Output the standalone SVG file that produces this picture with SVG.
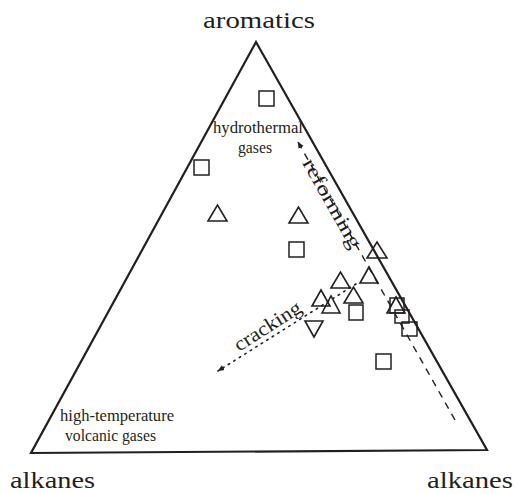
<svg xmlns="http://www.w3.org/2000/svg" width="517" height="494" viewBox="0 0 517 494">
<style>
.lbl{font-family:"Liberation Serif","Times New Roman",serif;fill:#231f20;}
.in{font-family:"Liberation Serif","Times New Roman",serif;fill:#231f20;}
.sq{fill:none;stroke:#231f20;stroke-width:1.5;}
.tr{fill:none;stroke:#231f20;stroke-width:1.6;stroke-linejoin:miter;}
</style>
<defs>
<marker id="ah" viewBox="0 0 10 10" refX="9" refY="5" markerWidth="7" markerHeight="7" orient="auto" markerUnits="userSpaceOnUse">
<path d="M0,1 L10,5 L0,9 Z" fill="#231f20"/>
</marker>
</defs>
<rect width="517" height="494" fill="#ffffff"/>
<g id="frame">
<path d="M256,42 L487,450 L31,453 Z" fill="none" stroke="#231f20" stroke-width="2.2" stroke-linejoin="miter"/>
</g>
<g id="labels">
<text class="lbl" x="203" y="28" font-size="23" textLength="112" lengthAdjust="spacingAndGlyphs">aromatics</text>
<text class="lbl" x="10" y="488" font-size="24" textLength="85" lengthAdjust="spacingAndGlyphs">alkanes</text>
<text class="lbl" x="427" y="488" font-size="24" textLength="86" lengthAdjust="spacingAndGlyphs">alkanes</text>
</g>
<g id="hydrothermal">
<text class="in" x="213" y="133" font-size="16" textLength="90" lengthAdjust="spacingAndGlyphs">hydrothermal</text>
<text class="in" x="238" y="153" font-size="16" textLength="34" lengthAdjust="spacingAndGlyphs">gases</text>
</g>
<g id="volcanic">
<text class="in" x="60" y="421" font-size="16" textLength="114" lengthAdjust="spacingAndGlyphs">high-temperature</text>
<text class="in" x="65" y="441" font-size="16" textLength="91" lengthAdjust="spacingAndGlyphs">volcanic gases</text>
</g>
<g id="connectors">
<line x1="455" y1="420" x2="298" y2="142" stroke="#231f20" stroke-width="1.4" stroke-dasharray="7,6" marker-end="url(#ah)"/>
<line x1="356" y1="284" x2="218" y2="371" stroke="#231f20" stroke-width="1.6" stroke-dasharray="1.5,5" stroke-linecap="round" marker-end="url(#ah)"/>
</g>
<g id="reforming">
<text class="in" transform="translate(302,163) rotate(60.6)" font-size="20" textLength="100" lengthAdjust="spacingAndGlyphs">reforming</text>
</g>
<g id="cracking">
<text class="in" transform="translate(239,352) rotate(-32.5)" font-size="20" textLength="76" lengthAdjust="spacingAndGlyphs">cracking</text>
</g>
<g id="squares">
<rect class="sq" x="259" y="91" width="15" height="15"/>
<rect class="sq" x="194" y="160" width="15" height="15"/>
<rect class="sq" x="289" y="242" width="15" height="15"/>
<rect class="sq" x="349" y="305" width="14" height="15"/>
<rect class="sq" x="376" y="354" width="15" height="15"/>
<rect class="sq" x="390" y="298" width="14" height="15"/>
<rect class="sq" x="395" y="310" width="14" height="13"/>
<rect class="sq" x="402" y="322" width="15" height="14"/>
</g>
<g id="triangles">
<path class="tr" d="M208,221 L217.5,205 L227,221 Z"/>
<path class="tr" d="M289,223 L298.5,207 L308,223 Z"/>
<path class="tr" d="M367,258 L377,242 L387,258 Z"/>
<path class="tr" d="M360,283 L369,267 L378,283 Z"/>
<path class="tr" d="M331,288 L340.5,272 L350,288 Z"/>
<path class="tr" d="M344,303 L353.5,287 L363,303 Z"/>
<path class="tr" d="M322,313 L331,296 L340,313 Z"/>
<path class="tr" d="M312,306 L321,290 L330,306 Z"/>
<path class="tr" d="M387,313 L396,297 L405,313 Z"/>
<path class="tr" d="M305,321 L323,321 L314,337 Z"/>
</g>
</svg>
